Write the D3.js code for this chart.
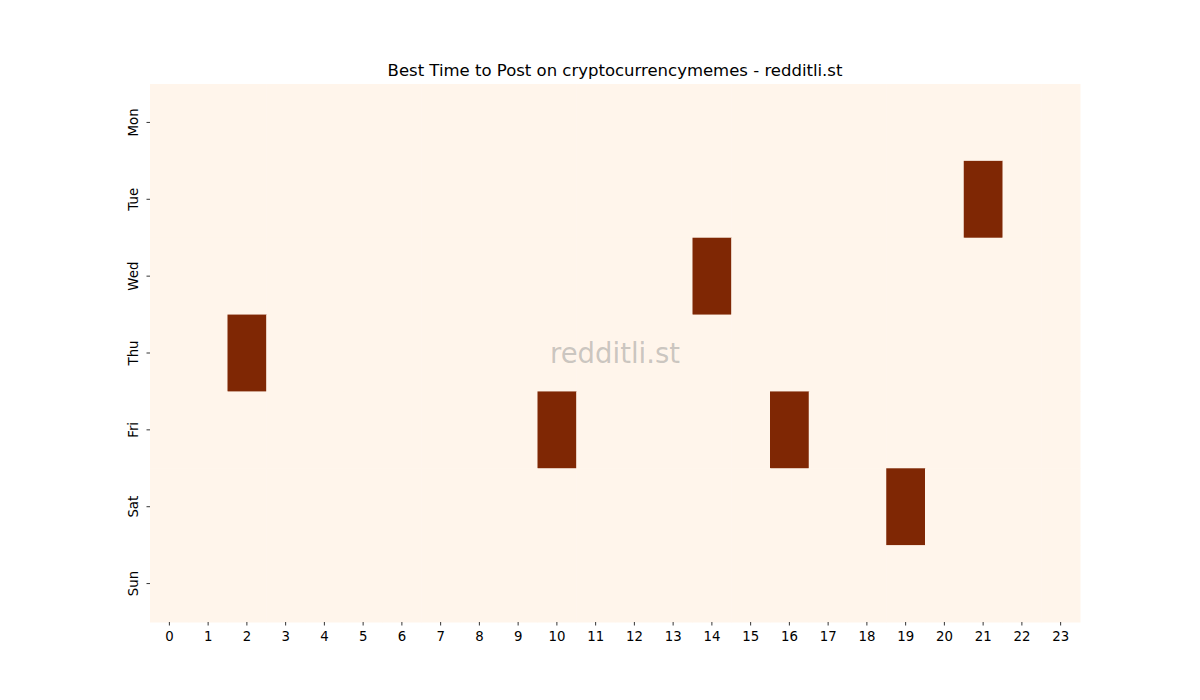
<!DOCTYPE html>
<html><head><meta charset="utf-8">
<script src="https://cdn.jsdelivr.net/npm/d3@7"></script>
<style>body{margin:0;background:#fff;} text{font-family:"DejaVu Sans",sans-serif;}</style>
</head><body>
<script>
const days = ["Mon","Tue","Wed","Thu","Fri","Sat","Sun"];
const hours = d3.range(0,24).map(String);
// cells with nonzero value: [day, hour, value]
const hotDays  = ["Tue","Wed","Thu","Fri","Fri","Sat"];
const hotHours = ["21","14","2","10","16","19"];
const hotVals  = [1,1,1,1,1,1];
const title = "Best Time to Post on cryptocurrencymemes - redditli.st";

const W=1200,H=700, L=150,R=1080,T=84,B=622;
const svg=d3.select("body").append("svg").attr("width",W).attr("height",H);
const x=d3.scaleBand().domain(hours).range([L,R]);
const y=d3.scaleBand().domain(days).range([T,B]);
const color=d3.scaleSequential(d3.interpolateOranges).domain([0,1]);

const cells=[];
days.forEach(d=>hours.forEach(h=>cells.push({d,h,v:0})));
hotDays.forEach((d,i)=>{const c=cells.find(c=>c.d===d&&c.h===hotHours[i]); c.v=hotVals[i];});

svg.append("g").selectAll("rect").data(cells).join("rect")
 .attr("x",c=>x(c.h)).attr("y",c=>y(c.d))
 .attr("width",x.bandwidth()+0.5).attr("height",y.bandwidth()+0.5)
 .attr("fill",c=>c.v===0?"#fff5eb":"#7f2704");

const xa=svg.append("g").attr("transform",`translate(0,${B})`).call(d3.axisBottom(x).tickSize(3.5).tickPadding(6));
const ya=svg.append("g").attr("transform",`translate(${L},0)`).call(d3.axisLeft(y).tickSize(3.5).tickPadding(5));
[xa,ya].forEach(a=>{a.select(".domain").remove();a.selectAll("text").attr("font-size","13.3px").attr("fill","#000").attr("font-family","DejaVu Sans");a.selectAll("line").attr("stroke","#000").attr("stroke-width",0.8);});
ya.selectAll(".tick text").attr("transform","rotate(-90)").attr("x",0).attr("y",-12).attr("dy","0").attr("text-anchor","middle");

svg.append("text").attr("x",(L+R)/2).attr("y",76).attr("text-anchor","middle").attr("font-size","16.5px").text(title);
svg.append("text").attr("x",(L+R)/2).attr("y",363).attr("text-anchor","middle").attr("font-size","27.5px").attr("fill","#8a8a8a").attr("fill-opacity",0.45).text("redditli.st");
</script>
</body></html>
